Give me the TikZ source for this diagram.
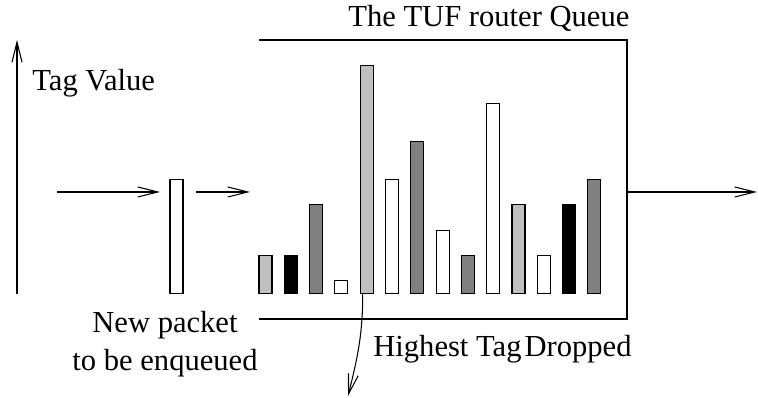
\documentclass[tikz,border=0pt]{standalone}
\usepackage{fontspec}
\setmainfont{Liberation Serif}
\usepackage{xcolor}
\usepackage{tikz}
\usetikzlibrary{arrows.meta,positioning,calc}
\definecolor{lgr}{RGB}{191,191,191}
\definecolor{dgr}{RGB}{128,128,128}
\tikzset{
  bar/.style={rectangle,draw,line width=0.6pt,anchor=south,minimum width=0.26cm,inner sep=0pt},
  lt/.style={fill=lgr}, dk/.style={fill=dgr}, bk/.style={fill=black}, wt/.style={fill=white},
  lbl/.style={inner sep=0pt},
  ar/.style={-{Straight Barb[length=4mm,width=2mm]},line width=0.6pt},
}

\begin{document}
\begin{tikzpicture}[font=\fontsize{17.4}{21.5}\selectfont]
  \useasboundingbox (0,0) rectangle (15.16,7.94);
  % tag axis
  \coordinate (ax0) at (0.34,2.06);
  \coordinate (ax1) at (0.34,7.14);
  \draw[ar] (ax0) -- (ax1);
  \node[lbl,anchor=base west] (tag) at (0.64,6.12) {Tag Value};
  % incoming packet
  \node[bar,wt,minimum height=2.28cm] (pkt) at (3.53,2.06) {};
  \coordinate (in0) at (1.14,4.10);
  \coordinate (in1) at (3.20,4.10);
  \coordinate (in2) at (3.92,4.10);
  \coordinate (in3) at (5.00,4.10);
  \draw[ar] (in0) -- (in1);
  \draw[ar] (in2) -- (in3);
  \node[lbl,align=center] (newp) at (3.30,1.06) {New packet\\to be enqueued};
  % queue
  \coordinate (qtl) at (5.18,7.14);
  \coordinate (qtr) at (12.54,7.14);
  \coordinate (qbr) at (12.54,1.56);
  \coordinate (qbl) at (5.18,1.56);
  \draw[line width=0.6pt] (qtl) -- (qtr) -- (qbr) -- (qbl);
  \node[lbl,anchor=base west] (title) at (6.96,7.40) {The TUF router Queue};
  \node[bar,lt,minimum height=0.76cm] (b1) at (5.310,2.06) {};
  \node[bar,bk,minimum height=0.76cm] (b2) at (5.816,2.06) {};
  \node[bar,dk,minimum height=1.78cm] (b3) at (6.322,2.06) {};
  \node[bar,wt,minimum height=0.26cm] (b4) at (6.828,2.06) {};
  \node[bar,lt,minimum height=4.56cm] (b5) at (7.334,2.06) {};
  \node[bar,wt,minimum height=2.28cm] (b6) at (7.840,2.06) {};
  \node[bar,dk,minimum height=3.04cm] (b7) at (8.346,2.06) {};
  \node[bar,wt,minimum height=1.26cm] (b8) at (8.852,2.06) {};
  \node[bar,dk,minimum height=0.76cm] (b9) at (9.358,2.06) {};
  \node[bar,wt,minimum height=3.80cm] (b10) at (9.864,2.06) {};
  \node[bar,lt,minimum height=1.78cm] (b11) at (10.370,2.06) {};
  \node[bar,wt,minimum height=0.76cm] (b12) at (10.876,2.06) {};
  \node[bar,bk,minimum height=1.78cm] (b13) at (11.382,2.06) {};
  \node[bar,dk,minimum height=2.28cm] (b14) at (11.888,2.06) {};
  % output
  \coordinate (out0) at (12.54,4.10);
  \coordinate (out1) at (15.14,4.10);
  \draw[ar] (out0) -- (out1);
  % dropped packet
  \coordinate (drop) at (6.96,0.02);
  \draw[ar] ([xshift=-0.08cm]b5.south) to[out=-90,in=76] (drop);
  \node[lbl,anchor=base west] (hdrop) at (7.46,0.80) {Highest Tag\hspace{0.1em}Dropped};
\end{tikzpicture}
\end{document}
